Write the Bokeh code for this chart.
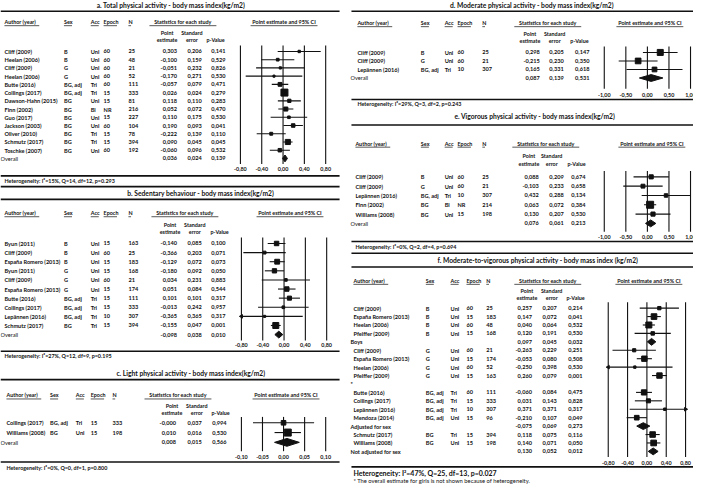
import math
from bokeh.plotting import figure
from bokeh.models import ColumnDataSource, Range1d
from bokeh.core.properties import value
from bokeh.embed import file_html
from bokeh.resources import INLINE

FONT = "Lato"
NAN = float("nan")

# ---------------- data ----------------
a_title = "a. Total physical activity - body mass index(kg/m2)"
a_author = ["Cliff (2009)", "Heelan (2006)", "Cliff (2009)", "Heelan (2006)", "Butte (2016)",
            "Collings (2017)", "Dawson-Hahn (2015)", "Finn (2002)", "Guo (2017)", "Jackson (2003)",
            "Oliver (2010)", "Schmutz (2017)", "Toschke (2007)", "Overall"]
a_sex = ["B", "B", "G", "G", "BG, adj", "BG, adj", "BG", "BG", "BG", "BG", "BG", "BG", "BG", ""]
a_acc = ["Uni", "Uni", "Uni", "Uni", "Tri", "Tri", "Uni", "Bi", "Uni", "Uni", "Tri", "Tri", "Uni", ""]
a_epoch = ["60", "60", "60", "60", "60", "15", "15", "NR", "15", "60", "15", "15", "60", ""]
a_n = ["25", "48", "21", "52", "111", "333", "81", "216", "227", "104", "78", "394", "192", ""]
a_est = [0.303, -0.100, -0.051, -0.170, -0.057, 0.026, 0.118, 0.052, 0.110, 0.190, -0.222, 0.090, -0.060, 0.036]
a_se = [0.206, 0.159, 0.232, 0.271, 0.079, 0.024, 0.110, 0.072, 0.175, 0.093, 0.139, 0.045, 0.096, 0.024]
a_p = [0.141, 0.529, 0.826, 0.530, 0.471, 0.279, 0.283, 0.470, 0.530, 0.041, 0.110, 0.045, 0.532, 0.139]
a_kind = ["s"] * 13 + ["o"]
a_ticks = [-0.8, -0.4, 0.0, 0.4, 0.8]
a_tick_labels = ["-0,80", "-0,40", "0,00", "0,40", "0,80"]
a_het = "Heterogeneity: I²=15%, Q=14, df=12, p=0.293"

b_title = "b. Sedentary behaviour - body mass index(kg/m2)"
b_author = ["Byun (2011)", "Cliff (2009)", "España Romero (2013)", "Byun (2011)", "Cliff (2009)",
            "España Romero (2013)", "Butte (2016)", "Collings (2017)", "Lepännen (2016)", "Schmutz (2017)", "Overall"]
b_sex = ["B", "B", "B", "G", "G", "G", "BG, adj", "BG, adj", "BG, adj", "BG", ""]
b_acc = ["Uni", "Uni", "Uni", "Uni", "Uni", "Uni", "Tri", "Tri", "Tri", "Tri", ""]
b_epoch = ["15", "60", "15", "15", "60", "15", "15", "15", "10", "15", ""]
b_n = ["163", "25", "183", "168", "21", "174", "111", "333", "307", "394", ""]
b_est = [-0.140, -0.366, -0.129, -0.180, 0.034, 0.051, 0.101, -0.013, -0.365, -0.155, -0.098]
b_se = [0.085, 0.203, 0.072, 0.092, 0.231, 0.084, 0.101, 0.242, 0.365, 0.047, 0.038]
b_p = [0.100, 0.071, 0.073, 0.050, 0.883, 0.544, 0.317, 0.957, 0.317, 0.001, 0.010]
b_kind = ["s"] * 10 + ["o"]
b_ticks = [-0.8, -0.4, 0.0, 0.4, 0.8]
b_tick_labels = ["-0,80", "-0,40", "0,00", "0,40", "0,80"]
b_het = "Heterogeneity: I²=27%, Q=12, df=9, p=0.195"

c_title = "c. Light physical activity - body mass index(kg/m2)"
c_author = ["Collings (2017)", "Williams (2008)", "Overall"]
c_sex = ["BG, adj", "BG", ""]
c_acc = ["Tri", "Uni", ""]
c_epoch = ["15", "15", ""]
c_n = ["333", "198", ""]
c_est = [-0.0, 0.010, 0.008]
c_se = [0.037, 0.016, 0.015]
c_p = [0.994, 0.530, 0.566]
c_kind = ["s", "s", "o"]
c_ticks = [-0.10, -0.05, 0.0, 0.05, 0.10]
c_tick_labels = ["-0,10", "-0,05", "0,00", "0,05", "0,10"]
c_het = "Heterogeneity: I²=0%, Q=0, df=1, p=0.800"

d_title = "d. Moderate physical activity - body mass index(kg/m2)"
d_author = ["Cliff (2009)", "Cliff (2009)", "Lepännen (2016)", "Overall"]
d_sex = ["B", "G", "BG, adj", ""]
d_acc = ["Uni", "Uni", "Tri", ""]
d_epoch = ["60", "60", "10", ""]
d_n = ["25", "21", "307", ""]
d_est = [0.298, -0.215, 0.165, 0.087]
d_se = [0.205, 0.230, 0.331, 0.139]
d_p = [0.147, 0.350, 0.618, 0.531]
d_kind = ["s", "s", "s", "o"]
d_ticks = [-1.0, -0.5, 0.0, 0.5, 1.0]
d_tick_labels = ["-1,00", "-0,50", "0,00", "0,50", "1,00"]
d_het = "Heterogeneity: I²=29%, Q=3, df=2, p=0.243"

e_title = "e. Vigorous physical activity - body mass index(kg/m2)"
e_author = ["Cliff (2009)", "Cliff (2009)", "Lepännen (2016)", "Finn (2002)", "Williams (2008)", "Overall"]
e_sex = ["B", "G", "BG, adj", "BG", "BG", ""]
e_acc = ["Uni", "Uni", "Tri", "Bi", "Uni", ""]
e_epoch = ["60", "60", "10", "NR", "15", ""]
e_n = ["25", "21", "307", "214", "198", ""]
e_est = [0.088, -0.103, 0.432, 0.063, 0.130, 0.076]
e_se = [0.209, 0.233, 0.288, 0.072, 0.207, 0.061]
e_p = [0.674, 0.658, 0.134, 0.384, 0.530, 0.213]
e_kind = ["s"] * 5 + ["o"]
e_ticks = [-1.0, -0.5, 0.0, 0.5, 1.0]
e_tick_labels = ["-1,00", "-0,50", "0,00", "0,50", "1,00"]
e_het = "Heterogeneity: I²=0%, Q=2, df=4, p=0.694"

f_title = "f. Moderate-to-vigorous physical activity - body mass index (kg/m2)"
f_author = ["Cliff (2009)", "España Romero (2013)", "Heelan (2006)", "Pfeiffer (2009)", "Boys",
            "Cliff (2009)", "España Romero (2013)", "Heelan (2006)", "Pfeiffer (2009)", "*",
            "Butte (2016)", "Collings (2017)", "Lepännen (2016)", "Mendoza (2014)", "Adjusted for sex",
            "Schmutz (2017)", "Williams (2008)", "Not adjusted for sex"]
f_sex = ["B", "B", "B", "B", "", "G", "G", "G", "G", "", "BG, adj", "BG, adj", "BG, adj", "BG, adj", "", "BG", "BG", ""]
f_acc = ["Uni", "Uni", "Uni", "Uni", "", "Uni", "Uni", "Uni", "Uni", "", "Tri", "Tri", "Tri", "Uni", "", "Tri", "Uni", ""]
f_epoch = ["60", "15", "60", "15", "", "60", "15", "60", "15", "", "60", "15", "10", "15", "", "15", "15", ""]
f_n = ["25", "183", "48", "168", "", "21", "174", "52", "163", "", "111", "333", "307", "96", "", "394", "198", ""]
f_est = [0.257, 0.147, 0.040, 0.120, 0.097, -0.263, -0.053, -0.250, 0.260, NAN,
         -0.060, 0.031, 0.371, -0.210, -0.075, 0.118, 0.140, 0.130]
f_se = [0.207, 0.072, 0.064, 0.191, 0.045, 0.229, 0.080, 0.398, 0.079, NAN,
        0.084, 0.143, 0.371, 0.107, 0.069, 0.075, 0.071, 0.052]
f_p = [0.214, 0.041, 0.532, 0.530, 0.032, 0.251, 0.508, 0.530, 0.001, NAN,
       0.475, 0.828, 0.317, 0.049, 0.273, 0.116, 0.050, 0.012]
f_kind = ["s", "s", "s", "s", "g", "s", "s", "s", "s", "x", "s", "s", "s", "s", "g", "s", "s", "g"]
f_ticks = [-0.8, -0.4, 0.0, 0.4, 0.8]
f_tick_labels = ["-0,80", "-0,40", "0,00", "0,40", "0,80"]
f_het = "Heterogeneity: I²=47%, Q=25, df=13, p=0.027"
f_note = "* The overall estimate for girls is not shown because of heterogeneity."

# ---------------- layout (reference pixel coordinates) ----------------
X0, X1 = 4, 703
Y0, Y1 = 4, 498

LEFT = dict(author=8, overall=4, sex=68, acc=95, epoch=108, n=133, pe=182, se=207, pv=231,
            pe_c=172, se_c=197, pv_c=221, stat_c=188, ci_c=290)
L_a = dict(title=(176, 9), hx=(4, 346), tline=15, head=26, pt=37, es=44, row0=56, step=8.4,
           grid=(50, 171), tick=176, bline=183, het=188, aline=194, cols=LEFT, fpx=(246, 332), smax=7, dh=3.5)
L_b = dict(title=(206, 200), hx=(4, 346), tline=207, head=221, pt=233, es=240, row0=252, step=9.3,
           grid=(246, 351), tick=356, bline=362, het=367, aline=None,
           cols=dict(LEFT, pe_c=175, se_c=200, pv_c=225, stat_c=190, ci_c=296), fpx=(247, 333), smax=6, dh=3.5)
L_c = dict(title=(196, 384), hx=(4, 346), tline=391, head=407, pt=418, es=425, row0=435, step=10,
           grid=(429, 464), tick=470, bline=475, het=481, aline=None,
           cols=dict(author=10, overall=4, sex=54, acc=80, epoch=95, n=117, pe=181, se=207, pv=232,
                     pe_c=177, se_c=202, pv_c=226, stat_c=183, ci_c=292), fpx=(247, 332), smax=7, dh=4)
RIGHT = dict(author=364, overall=357, sex=428, acc=452, epoch=465, n=490, pe=548, se=572, pv=598,
             pe_c=538, se_c=563, pv_c=588, stat_c=556, ci_c=659)
L_d = dict(title=(540, 9), hx=(358, 703), tline=15, head=27, pt=38, es=45, row0=57, step=8.7,
           grid=(51, 94), tick=100, bline=105, het=110, aline=None, cols=RIGHT, fpx=(613, 700), smax=6, dh=3.5)
L_e = dict(title=(543, 122), hx=(358, 703), tline=131, head=150, pt=163, es=171, row0=184, step=9.5,
           grid=(178, 240), tick=245, bline=250, het=256, aline=262,
           cols=dict(RIGHT, author=362, pe=547, pv=594, pe_c=537, se_c=560, pv_c=585, stat_c=554, ci_c=661),
           fpx=(613, 700), smax=7, dh=3.5)
L_f = dict(title=(546, 269), hx=(358, 703), tline=276, head=290, pt=301, es=308, row0=318, step=8.6,
           grid=(312, 470), tick=476, bline=480, het=486, aline=None, het_size="7px", note=494,
           cols=dict(author=360, overall=357, sex=433, acc=458, epoch=474, n=494, pe=540, se=565, pv=591,
                     pe_c=535, se_c=560, pv_c=584, stat_c=556, ci_c=658), fpx=(617, 695), smax=6, dh=3.5)

ROW_SIZE = 5.6

p = figure(width=693, height=484, x_range=Range1d(X0, X1), y_range=Range1d(Y1, Y0),
           output_backend="svg", toolbar_location=None, x_axis_location=None, y_axis_location=None,
           min_border=0, outline_line_color=None)
p.grid.visible = False
p.background_fill_color = "white"
p.border_fill_color = "white"

INK = "#111111"


def txt(xs, ys, texts, align="left", size=f"{ROW_SIZE}px", style="bold", rn=None, color=INK):
    src = ColumnDataSource(dict(x=list(xs), y=list(ys), t=list(texts)))
    kw = dict(x_range_name=rn) if rn else {}
    p.text(x="x", y="y", text="t", source=src, text_align=align, text_baseline="middle",
           text_font=value(FONT), text_font_size=value(size), text_font_style=style,
           text_color=color, **kw)


def fmt(v):
    return "" if v != v else f"{v:.3f}".replace(".", ",")


def draw(key, D, L):
    C = L["cols"]
    rn = "fx_" + key
    lo_px, hi_px = L["fpx"]
    v_lo, v_hi = D["ticks"][0], D["ticks"][-1]
    sc = (hi_px - lo_px) / (v_hi - v_lo)
    p.extra_x_ranges[rn] = Range1d(start=v_lo - (lo_px - X0) / sc, end=v_hi + (X1 - hi_px) / sc)

    n = len(D["author"])
    ys = [L["row0"] + i * L["step"] for i in range(n)]

    # title and rules
    txt([L["title"][0]], [L["title"][1]], [D["title"]], "center", "6.7px")
    rules = [L["tline"], L["bline"]] + ([L["aline"]] if L.get("aline") else [])
    hx0, hx1 = L["hx"]
    p.segment(x0=[hx0] * len(rules), x1=[hx1] * len(rules), y0=rules, y1=rules,
              line_color=INK, line_width=1.6)

    # headers (underlined)
    heads = [("Author (year)", C["author"], "left"), ("Sex", C["sex"], "left"), ("Acc", C["acc"], "left"),
             ("Epoch", C["epoch"], "left"), ("N", C["n"], "left"),
             ("Statistics for each study", C["stat_c"], "center"),
             ("Point estimate and 95% CI", C["ci_c"], "center")]
    for label, hx, al in heads:
        txt([hx], [L["head"]], [label], al, size="5.4px")
    ux0, ux1 = [], []
    for label, hx, al in heads:
        w = len(label) * 5.4 * 0.5
        if al == "left":
            ux0.append(hx); ux1.append(hx + w)
        else:
            ux0.append(hx - w / 2); ux1.append(hx + w / 2)
    uy = L["head"] + 3.7
    p.segment(x0=ux0, x1=ux1, y0=[uy] * len(ux0), y1=[uy] * len(ux0), line_color=INK, line_width=0.7)

    txt([C["pe_c"], C["se_c"]], [L["pt"]] * 2, ["Point", "Standard"], "center", size="5.4px")
    txt([C["pe_c"], C["se_c"], C["pv_c"]], [L["es"]] * 3, ["estimate", "error", "p-Value"], "center",
        size="5.4px")

    # table rows
    kinds = D["kind"]
    sx = [C["author"] if k == "s" else C["overall"] for k in kinds]
    bold_i = [i for i in range(n) if kinds[i] != "o"]
    norm_i = [i for i in range(n) if kinds[i] == "o"]
    txt([sx[i] for i in bold_i], [ys[i] for i in bold_i], [D["author"][i] for i in bold_i], "left")
    if norm_i:
        txt([sx[i] for i in norm_i], [ys[i] for i in norm_i], [D["author"][i] for i in norm_i], "left",
            style="normal")
    for col, arr in (("sex", D["sex"]), ("acc", D["acc"]), ("epoch", D["epoch"]), ("n", D["n"])):
        txt([C[col]] * n, ys, arr, "left")
    txt([C["pe"]] * n, ys, [fmt(v) for v in D["est"]], "right")
    txt([C["se"]] * n, ys, [fmt(v) for v in D["se"]], "right")
    txt([C["pv"]] * n, ys, [fmt(v) for v in D["pv"]], "right")

    # forest: reference lines and tick labels
    g0, g1 = L["grid"]
    tk = D["ticks"]
    p.segment(x0=tk, x1=tk, y0=[g0] * len(tk), y1=[g1] * len(tk), x_range_name=rn,
              line_color=INK, line_width=1.1)
    txt(tk, [L["tick"]] * len(tk), D["tlab"], "center", size="5.4px", rn=rn)

    # studies
    st = [i for i in range(n) if kinds[i] == "s"]
    min_se = min(D["se"][i] for i in st)
    cx0, cx1, cy, bx, by, bs = [], [], [], [], [], []
    al_x, al_y, ar_x, ar_y = [], [], [], []
    for i in st:
        e, s = D["est"][i], D["se"][i]
        lo, hi = e - 1.96 * s, e + 1.96 * s
        if lo < v_lo:
            al_x.append(v_lo); al_y.append(ys[i]); lo = v_lo
        if hi > v_hi:
            ar_x.append(v_hi); ar_y.append(ys[i]); hi = v_hi
        cx0.append(lo); cx1.append(hi); cy.append(ys[i])
        bx.append(e); by.append(ys[i]); bs.append(max(2.0, L["smax"] * math.sqrt(min_se / s)))
    p.segment(x0=cx0, x1=cx1, y0=cy, y1=cy, x_range_name=rn, line_color=INK, line_width=1.1)
    p.scatter(x=bx, y=by, size=bs, marker="square", x_range_name=rn, color=INK)
    if al_x:
        p.scatter(x=al_x, y=al_y, size=3.5, marker="triangle", angle=math.pi / 2, x_range_name=rn, color=INK)
    if ar_x:
        p.scatter(x=ar_x, y=ar_y, size=3.5, marker="triangle", angle=-math.pi / 2, x_range_name=rn, color=INK)

    # summary diamonds
    dxs, dys = [], []
    h = L["dh"]
    for i in range(n):
        if kinds[i] in ("o", "g"):
            e, s = D["est"][i], D["se"][i]
            dxs.append([e - 1.96 * s, e, e + 1.96 * s, e])
            dys.append([ys[i], ys[i] - h, ys[i], ys[i] + h])
    if dxs:
        p.patches(xs=dxs, ys=dys, x_range_name=rn, fill_color=INK, line_color=INK)

    # heterogeneity & note
    txt([C["author"]], [L["het"]], [D["het"]], "left", size=L.get("het_size", "5.4px"))
    if "note" in L:
        txt([C["author"]], [L["note"]], [D["note"]], "left", size="5.8px", style="normal")


panels = [
    ("a", dict(title=a_title, author=a_author, sex=a_sex, acc=a_acc, epoch=a_epoch, n=a_n, est=a_est,
               se=a_se, pv=a_p, kind=a_kind, ticks=a_ticks, tlab=a_tick_labels, het=a_het), L_a),
    ("b", dict(title=b_title, author=b_author, sex=b_sex, acc=b_acc, epoch=b_epoch, n=b_n, est=b_est,
               se=b_se, pv=b_p, kind=b_kind, ticks=b_ticks, tlab=b_tick_labels, het=b_het), L_b),
    ("c", dict(title=c_title, author=c_author, sex=c_sex, acc=c_acc, epoch=c_epoch, n=c_n, est=c_est,
               se=c_se, pv=c_p, kind=c_kind, ticks=c_ticks, tlab=c_tick_labels, het=c_het), L_c),
    ("d", dict(title=d_title, author=d_author, sex=d_sex, acc=d_acc, epoch=d_epoch, n=d_n, est=d_est,
               se=d_se, pv=d_p, kind=d_kind, ticks=d_ticks, tlab=d_tick_labels, het=d_het), L_d),
    ("e", dict(title=e_title, author=e_author, sex=e_sex, acc=e_acc, epoch=e_epoch, n=e_n, est=e_est,
               se=e_se, pv=e_p, kind=e_kind, ticks=e_ticks, tlab=e_tick_labels, het=e_het), L_e),
    ("f", dict(title=f_title, author=f_author, sex=f_sex, acc=f_acc, epoch=f_epoch, n=f_n, est=f_est,
               se=f_se, pv=f_p, kind=f_kind, ticks=f_ticks, tlab=f_tick_labels, het=f_het, note=f_note), L_f),
]

for key, D, L in panels:
    draw(key, D, L)

open("out.html", "w").write(file_html(p, INLINE))
